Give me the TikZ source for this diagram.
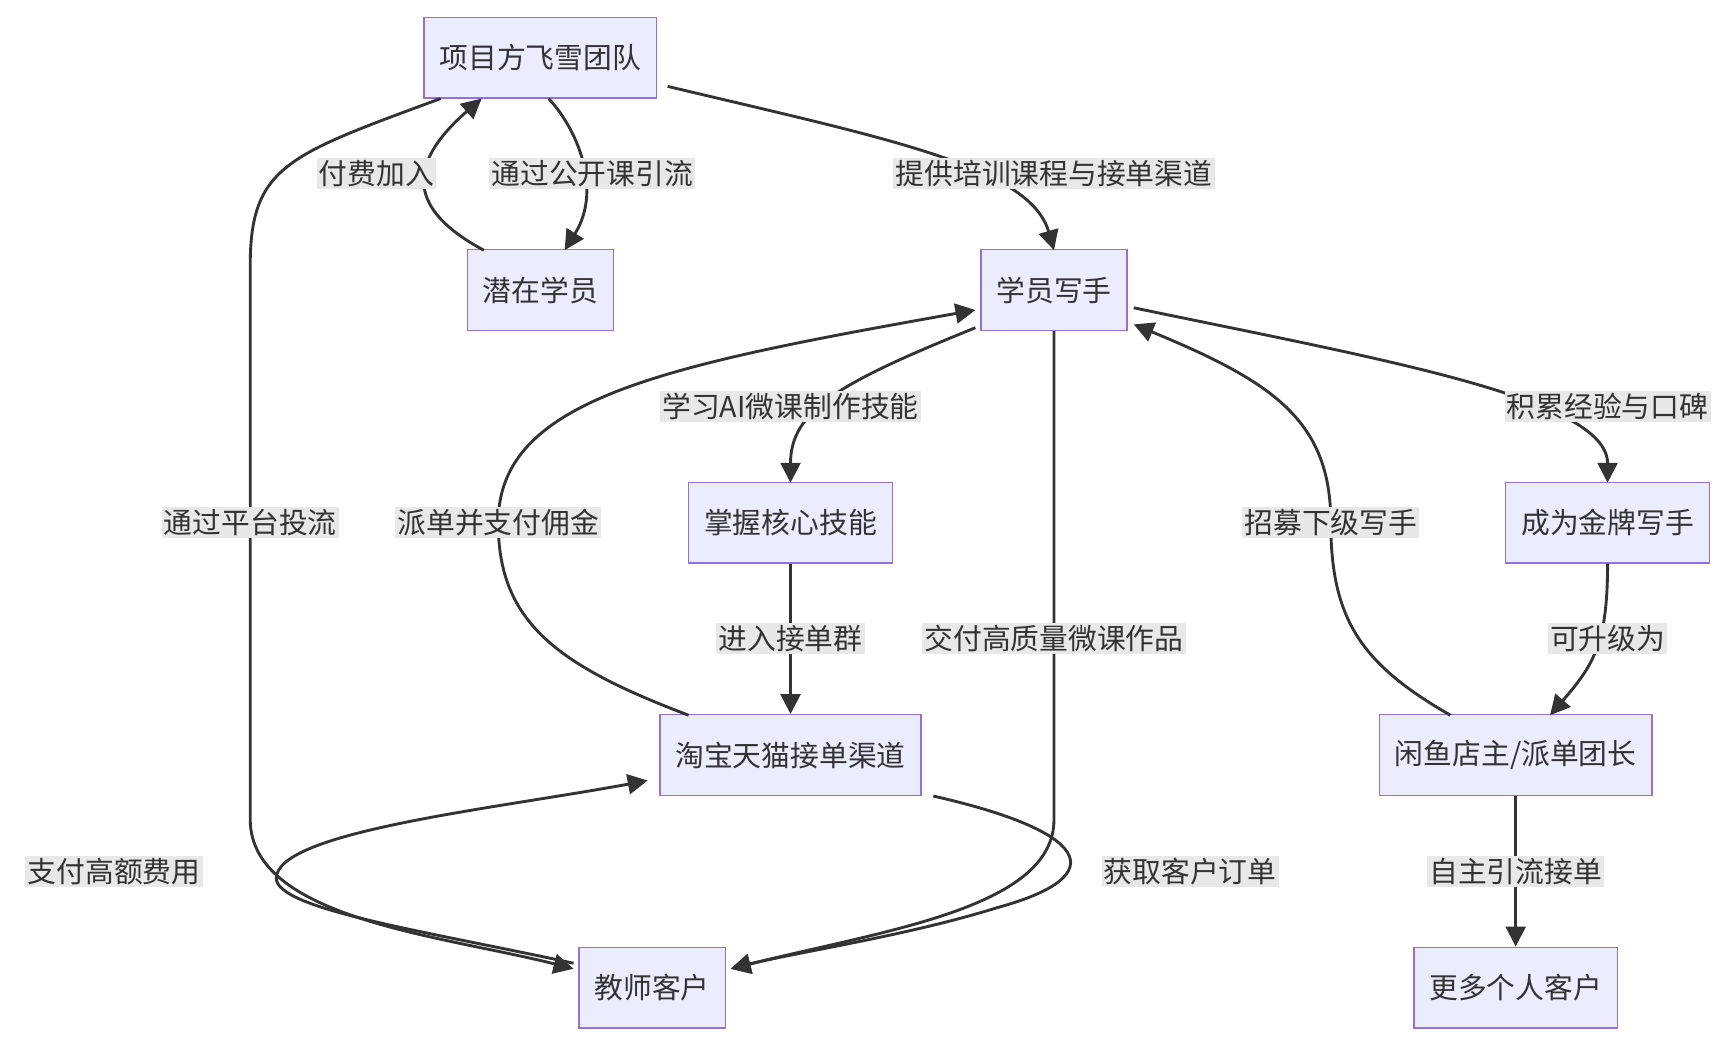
\documentclass[tikz,border=0pt]{standalone}
\usepackage{fontspec}
\setmainfont{Noto Sans CJK SC}
\usetikzlibrary{arrows.meta}
\definecolor{nodefill}{HTML}{ECECFF}
\definecolor{nodeline}{HTML}{9370DB}
\definecolor{edge}{HTML}{333333}
\definecolor{lblbg}{HTML}{E8E8E8}
\begin{document}
\begin{tikzpicture}[x=0.5pt,y=-0.5pt,
  box/.style={draw=nodeline,fill=nodefill,line width=0.6pt,minimum height=36.5pt,inner xsep=7pt,font=\fontsize{13}{15}\selectfont,text=edge},
  e/.style={draw=edge,line width=1.3pt,-{Triangle[length=9pt,width=9pt]}},
  lbl/.style={fill=lblbg,inner sep=1pt,font=\fontsize{13}{15}\selectfont,text=edge}]
\useasboundingbox (0,0) rectangle (1568,943);
\node[box] (xm) at (488,52) {项目方飞雪团队};
\node[box] (qz) at (488,262) {潜在学员};
\node[box] (xy) at (952,262) {学员写手};
\node[box] (zw) at (714,472) {掌握核心技能};
\node[box] (jp) at (1452,472) {成为金牌写手};
\node[box] (tb) at (714,682) {淘宝天猫接单渠道};
\node[box] (xz) at (1369,682) {闲鱼店主/派单团长};
\node[box] (js) at (589,892) {教师客户};
\node[box] (gd) at (1369,892) {更多个人客户};

\draw[e] (xm.south east) ++(-98,0) .. controls (520,115) and (545,170) .. (510,226);
\draw[e] (437,226) .. controls (370,190) and (365,150) .. (435,89);
\draw[e] (603,78) .. controls (800,125) and (930,150) .. (952,226);
\draw[e] (881,296) .. controls (760,345) and (714,370) .. (714,436);
\draw[e] (zw) -- (tb);
\draw[e] (622,646) .. controls (500,600) and (450,560) .. (450,472) .. controls (450,360) and (600,330) .. (881,280);
\draw[e] (952,299) -- (952,740) .. controls (952,820) and (800,840) .. (660,875);
\draw[e] (843,719) .. controls (980,750) and (1010,790) .. (900,820) .. controls (820,845) and (720,860) .. (660,875);
\draw[e] (518,870) .. controls (380,840) and (240,820) .. (250,790) .. controls (260,750) and (450,730) .. (585,705);
\draw[e] (398,89) .. controls (260,140) and (226,150) .. (226,240) -- (226,740) .. controls (226,830) and (400,845) .. (518,875);
\draw[e] (1024,278) .. controls (1250,325) and (1452,360) .. (1452,436);
\draw[e] (1452,509) .. controls (1452,580) and (1440,600) .. (1400,646);
\draw[e] (1310,646) .. controls (1230,600) and (1202,560) .. (1202,472) .. controls (1202,380) and (1150,345) .. (1024,293);
\draw[e] (xz) -- (gd);

\node[lbl] (l1) at (535,157) {通过公开课引流};
\node[lbl] (l2) at (340,157) {付费加入};
\node[lbl] (l3) at (952,157) {提供培训课程与接单渠道};
\node[lbl] (l4) at (714,367) {学习AI微课制作技能};
\node[lbl] (l5) at (714,577) {进入接单群};
\node[lbl] (l6) at (450,472) {派单并支付佣金};
\node[lbl] (l7) at (952,577) {交付高质量微课作品};
\node[lbl] (l8) at (1075,787) {获取客户订单};
\node[lbl] (l9) at (103,787) {支付高额费用};
\node[lbl] (l10) at (226,472) {通过平台投流};
\node[lbl] (l11) at (1452,367) {积累经验与口碑};
\node[lbl] (l12) at (1452,577) {可升级为};
\node[lbl] (l13) at (1202,472) {招募下级写手};
\node[lbl] (l14) at (1369,787) {自主引流接单};
\end{tikzpicture}
\end{document}
